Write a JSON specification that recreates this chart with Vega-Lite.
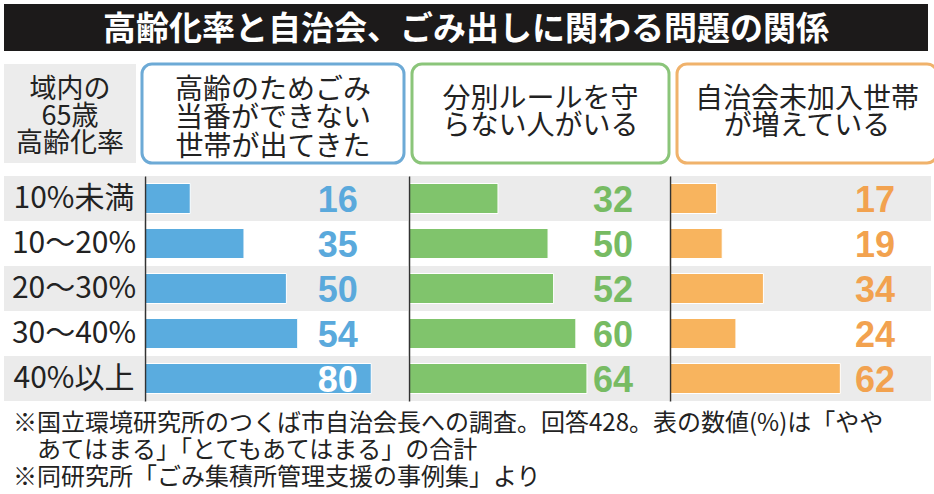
{
  "$schema": "https://vega.github.io/schema/vega-lite/v6.json",
  "padding": {"left": 4, "top": 4, "right": 0, "bottom": 4},
  "background": "white",
  "config": {"view": {"stroke": null}, "font": "Noto Sans CJK JP"},
  "data": {"values": [
    {"rate": "10%未満", "item": "A", "value": 16},
    {"rate": "10〜20%", "item": "A", "value": 35},
    {"rate": "20〜30%", "item": "A", "value": 50},
    {"rate": "30〜40%", "item": "A", "value": 54},
    {"rate": "40%以上", "item": "A", "value": 80},
    {"rate": "10%未満", "item": "B", "value": 32},
    {"rate": "10〜20%", "item": "B", "value": 50},
    {"rate": "20〜30%", "item": "B", "value": 52},
    {"rate": "30〜40%", "item": "B", "value": 60},
    {"rate": "40%以上", "item": "B", "value": 64},
    {"rate": "10%未満", "item": "C", "value": 17},
    {"rate": "10〜20%", "item": "C", "value": 19},
    {"rate": "20〜30%", "item": "C", "value": 34},
    {"rate": "30〜40%", "item": "C", "value": 24},
    {"rate": "40%以上", "item": "C", "value": 62}
  ]},
  "spacing": 11,
  "vconcat": [
    {
      "width": 924, "height": 47,
      "view": {"fill": "#1c1a1a", "stroke": null},
      "data": {"values": [{"t": "高齢化率と自治会、ごみ出しに関わる問題の関係"}]},
      "mark": {"type": "text", "color": "white", "fontSize": 33, "fontWeight": "bold", "align": "center", "baseline": "middle", "dy": 2},
      "encoding": {"text": {"field": "t", "type": "nominal"}}
    },
    {
      "spacing": 4,
      "hconcat": [
        {
          "width": 132, "height": 99,
          "view": {"fill": "#ececec", "stroke": null},
          "data": {"values": [{"t": "域内の\n65歳\n高齢化率"}]},
          "mark": {"type": "text", "color": "#222", "fontSize": 27, "lineHeight": 27, "lineBreak": "\n", "align": "center", "baseline": "middle", "dy": -24},
          "encoding": {"text": {"field": "t", "type": "nominal"}}
        },
        {
          "width": 262, "height": 99,
          "view": {"fill": "white", "stroke": "#6daad6", "strokeWidth": 3, "cornerRadius": 10},
          "data": {"values": [{"t": "高齢のためごみ\n当番ができない\n世帯が出てきた"}]},
          "mark": {"type": "text", "color": "#222", "fontSize": 28, "lineHeight": 28.5, "lineBreak": "\n", "align": "center", "baseline": "middle", "dy": -23},
          "encoding": {"text": {"field": "t", "type": "nominal"}}
        },
        {
          "width": 257, "height": 99,
          "view": {"fill": "white", "stroke": "#8bc57a", "strokeWidth": 3, "cornerRadius": 10},
          "data": {"values": [{"t": "分別ルールを守\nらない人がいる"}]},
          "mark": {"type": "text", "color": "#222", "fontSize": 28, "lineHeight": 27.5, "lineBreak": "\n", "align": "center", "baseline": "middle", "dy": -14},
          "encoding": {"text": {"field": "t", "type": "nominal"}}
        },
        {
          "width": 260, "height": 99,
          "view": {"fill": "white", "stroke": "#f0b26b", "strokeWidth": 3, "cornerRadius": 10},
          "data": {"values": [{"t": "自治会未加入世帯\nが増えている"}]},
          "mark": {"type": "text", "color": "#222", "fontSize": 28, "lineHeight": 27.5, "lineBreak": "\n", "align": "center", "baseline": "middle", "dy": -14},
          "encoding": {"text": {"field": "t", "type": "nominal"}}
        }
      ]
    },
    {
      "spacing": 0,
      "title": {
        "text": ["※国立環境研究所のつくば市自治会長への調査。回答428。表の数値(%)は「やや", "\u200b\u3000あてはまる」「とてもあてはまる」の合計", "※同研究所「ごみ集積所管理支援の事例集」より"],
        "orient": "bottom", "anchor": "start", "fontSize": 24, "fontWeight": "normal", "lineHeight": 27,
        "color": "#222", "offset": 11, "dx": 9, "font": "Noto Sans CJK JP"
      },
      "hconcat": [
        {
          "width": 140, "height": 225,
          "transform": [{"filter": "datum.item === 'A'"}],
          "encoding": {"y": {"field": "rate", "type": "nominal", "sort": null, "scale": {"domain": ["10%未満", "10〜20%", "20〜30%", "30〜40%", "40%以上"], "paddingInner": 0, "paddingOuter": 0}, "axis": null}},
          "layer": [
            {"transform": [{"filter": {"field": "rate", "oneOf": ["10%未満", "20〜30%", "40%以上"]}}], "mark": {"type": "rect", "color": "#ebebeb"}},
            {"mark": {"type": "text", "fontSize": 30, "color": "#222", "align": "center", "baseline": "middle"}, "encoding": {"text": {"field": "rate", "type": "nominal"}}}
          ]
        },
        {
          "width": 263, "height": 225,
          "transform": [{"filter": "datum.item === 'A'"}],
          "encoding": {"y": {"field": "rate", "type": "nominal", "sort": null, "scale": {"domain": ["10%未満", "10〜20%", "20〜30%", "30〜40%", "40%以上"], "paddingInner": 0, "paddingOuter": 0}, "axis": {"title": null, "labels": false, "ticks": false, "grid": false, "domain": true, "domainColor": "#333", "domainWidth": 1.5, "minExtent": 0, "maxExtent": 0, "offset": 0, "zindex": 1}}},
          "layer": [
            {"transform": [{"filter": {"field": "rate", "oneOf": ["10%未満", "20〜30%", "40%以上"]}}], "mark": {"type": "rect", "color": "#ebebeb"}},
            {"mark": {"type": "bar", "color": "#5aacdf", "size": 30, "stroke": "white", "strokeWidth": 1}, "encoding": {"x": {"field": "value", "type": "quantitative", "scale": {"domain": [0, 93], "nice": false}, "axis": null}}},
            {"mark": {"type": "text", "align": "left", "baseline": "middle", "font": "Liberation Sans", "fontSize": 36, "fontWeight": "bold", "dy": 2}, "encoding": {"x": {"datum": 61.1, "type": "quantitative"}, "text": {"field": "value", "type": "quantitative"}, "color": {"condition": {"test": "datum.value > 65", "value": "white"}, "value": "#5aa9dc"}}}
          ]
        },
        {
          "width": 260, "height": 225,
          "transform": [{"filter": "datum.item === 'B'"}],
          "encoding": {"y": {"field": "rate", "type": "nominal", "sort": null, "scale": {"domain": ["10%未満", "10〜20%", "20〜30%", "30〜40%", "40%以上"], "paddingInner": 0, "paddingOuter": 0}, "axis": {"title": null, "labels": false, "ticks": false, "grid": false, "domain": true, "domainColor": "#333", "domainWidth": 1.5, "minExtent": 0, "maxExtent": 0, "offset": 0, "zindex": 1}}},
          "layer": [
            {"transform": [{"filter": {"field": "rate", "oneOf": ["10%未満", "20〜30%", "40%以上"]}}], "mark": {"type": "rect", "color": "#ebebeb"}},
            {"mark": {"type": "bar", "color": "#80c46c", "size": 30, "stroke": "white", "strokeWidth": 1}, "encoding": {"x": {"field": "value", "type": "quantitative", "scale": {"domain": [0, 93.5], "nice": false}, "axis": null}}},
            {"mark": {"type": "text", "align": "left", "baseline": "middle", "font": "Liberation Sans", "fontSize": 36, "fontWeight": "bold", "color": "#77bb63", "dy": 2}, "encoding": {"x": {"datum": 66.2, "type": "quantitative"}, "text": {"field": "value", "type": "quantitative"}}}
          ]
        },
        {
          "width": 261, "height": 225,
          "transform": [{"filter": "datum.item === 'C'"}],
          "encoding": {"y": {"field": "rate", "type": "nominal", "sort": null, "scale": {"domain": ["10%未満", "10〜20%", "20〜30%", "30〜40%", "40%以上"], "paddingInner": 0, "paddingOuter": 0}, "axis": {"title": null, "labels": false, "ticks": false, "grid": false, "domain": true, "domainColor": "#333", "domainWidth": 1.5, "minExtent": 0, "maxExtent": 0, "offset": 0, "zindex": 1}}},
          "layer": [
            {"transform": [{"filter": {"field": "rate", "oneOf": ["10%未満", "20〜30%", "40%以上"]}}], "mark": {"type": "rect", "color": "#ebebeb"}},
            {"mark": {"type": "bar", "color": "#f8b45e", "size": 30, "stroke": "white", "strokeWidth": 1}, "encoding": {"x": {"field": "value", "type": "quantitative", "scale": {"domain": [0, 95], "nice": false}, "axis": null}}},
            {"mark": {"type": "text", "align": "left", "baseline": "middle", "font": "Liberation Sans", "fontSize": 36, "fontWeight": "bold", "color": "#f2a24f", "dy": 2}, "encoding": {"x": {"datum": 67.3, "type": "quantitative"}, "text": {"field": "value", "type": "quantitative"}}}
          ]
        }
      ]
    }
  ]
}
